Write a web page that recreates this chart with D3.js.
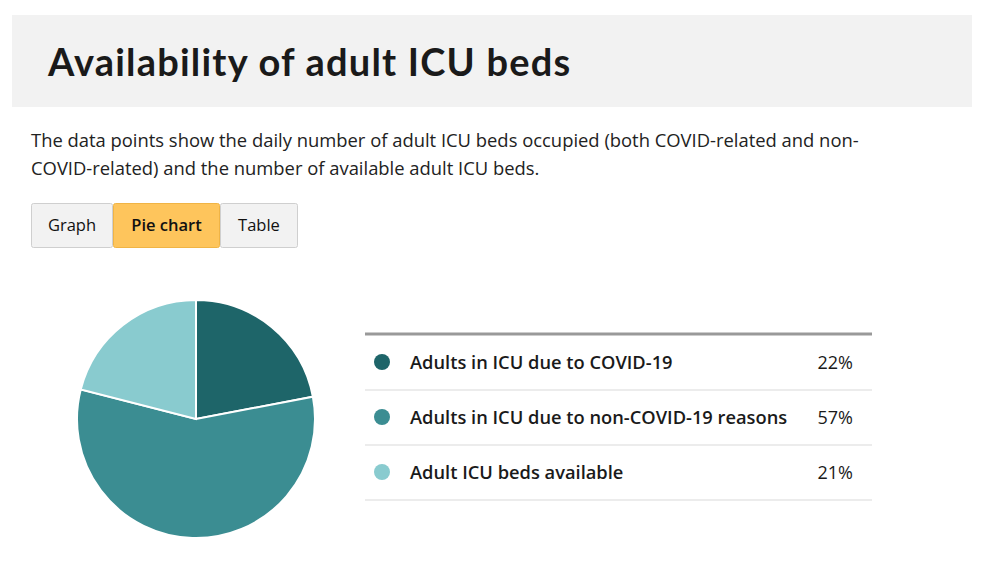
<!DOCTYPE html>
<html><head><meta charset="utf-8">
<script src="https://cdn.jsdelivr.net/npm/d3@7"></script>
<style>
body{margin:0;background:#fff;}
svg{display:block;}
</style></head>
<body>
<svg id="chart" width="986" height="562"></svg>
<script>
const categories = ["Adults in ICU due to COVID-19", "Adults in ICU due to non-COVID-19 reasons", "Adult ICU beds available"];
const values = [22, 57, 21];
const colors = ["#1e6569", "#3b8d92", "#89cbcf"];
const buttons = ["Graph", "Pie chart", "Table"];
const title = "Availability of adult ICU beds";
const descLines = ["The data points show the daily number of adult ICU beds occupied (both COVID-related and non-", "COVID-related) and the number of available adult ICU beds."];

const svg = d3.select("#chart");
// title band
svg.append("rect").attr("x",12).attr("y",15).attr("width",960).attr("height",92).attr("fill","#f2f2f2");
svg.append("text").attr("x",48).attr("y",76).text(title)
  .attr("font-family","Lato, sans-serif").attr("font-weight",700).attr("font-size",38)
  .attr("letter-spacing",1.2).attr("fill","#1a1a1a");

// description
descLines.forEach((l,i)=>{
  svg.append("text").attr("x",31).attr("y",147+i*28).text(l)
    .attr("font-family","'Open Sans', sans-serif").attr("font-size",18.4).attr("fill","#222");
});

// buttons
const bx = [31,113,220,298];
buttons.forEach((b,i)=>{
  const active = i===1;
  svg.append("rect").attr("x",bx[i]+0.5).attr("y",203.5).attr("width",bx[i+1]-bx[i]-1).attr("height",44)
    .attr("rx",2).attr("fill",active?"#fec55c":"#f2f2f2").attr("stroke",active?"#f0b445":"#cfcfcf");
  svg.append("text").attr("x",(bx[i]+bx[i+1])/2).attr("y",231).attr("text-anchor","middle").text(b)
    .attr("font-family","'Open Sans', sans-serif").attr("font-size",16.5).attr("font-weight",active?600:400).attr("fill","#111");
});

// pie
const pie = d3.pie().sort(null).value(d=>d)(values);
const arc = d3.arc().innerRadius(0).outerRadius(119);
const g = svg.append("g").attr("transform","translate(196,419)");
g.selectAll("path").data(pie).join("path").attr("d",arc)
  .attr("fill",(d,i)=>colors[i]).attr("stroke","#fff").attr("stroke-width",2);

// legend table
const lx0 = 365, lx1 = 872;
svg.append("line").attr("x1",lx0).attr("x2",lx1).attr("y1",334).attr("y2",334).attr("stroke","#999").attr("stroke-width",3);
const rowY = d3.scalePoint().domain(categories).range([362,472]);
categories.forEach((c,i)=>{
  const y = rowY(c);
  svg.append("circle").attr("cx",382).attr("cy",y).attr("r",8).attr("fill",colors[i]);
  svg.append("text").attr("x",410).attr("y",y+6.5).text(c)
    .attr("font-family","'Open Sans', sans-serif").attr("font-weight",600).attr("font-size",18.3).attr("fill","#1a1a1a");
  svg.append("text").attr("x",853).attr("y",y+6.5).attr("text-anchor","end").text(values[i]+"%")
    .attr("font-family","'Open Sans', sans-serif").attr("font-size",18).attr("fill","#1a1a1a");
  svg.append("line").attr("x1",lx0).attr("x2",lx1).attr("y1",y+28).attr("y2",y+28).attr("stroke","#e6e6e6").attr("stroke-width",1.5);
});
</script>
</body></html>
